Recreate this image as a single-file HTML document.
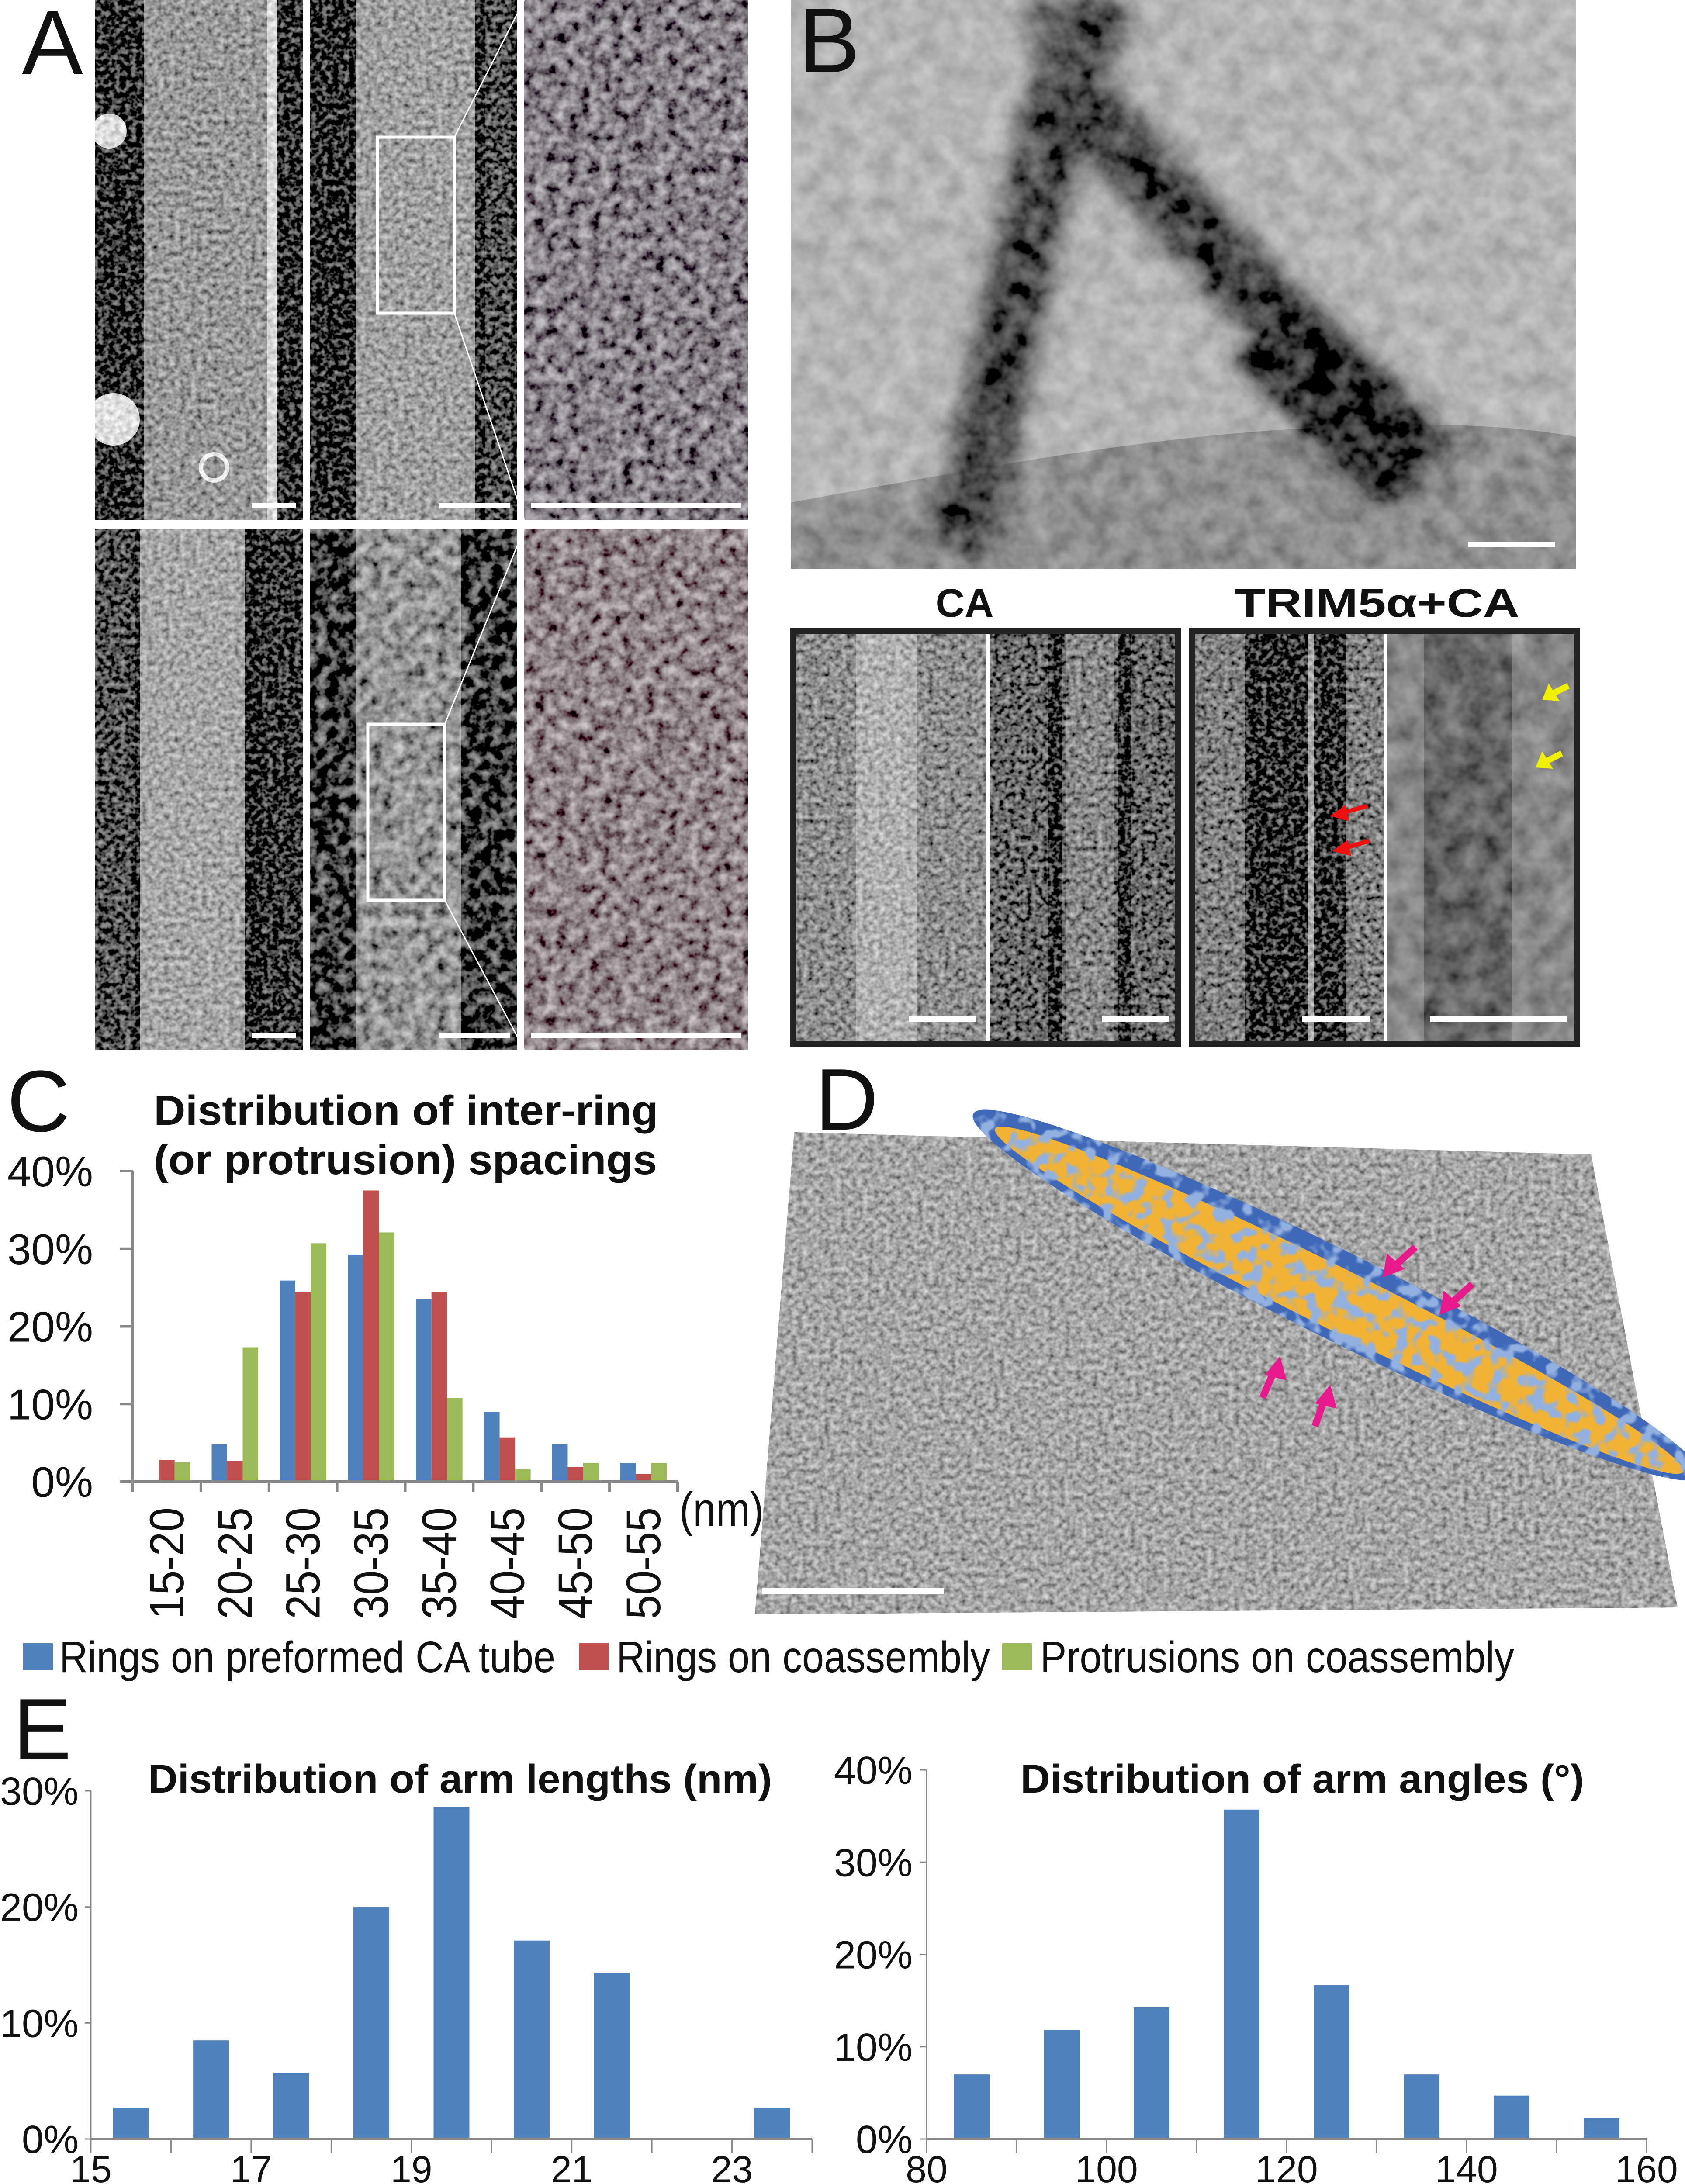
<!DOCTYPE html>
<html><head><meta charset="utf-8">
<style>
html,body{margin:0;padding:0;background:#fff;width:3857px;height:5018px;overflow:hidden;}
svg{display:block;}
text{font-family:"Liberation Sans",Arial,sans-serif;}
</style></head>
<body>
<svg id="fig" xmlns="http://www.w3.org/2000/svg" width="3857" height="5018" viewBox="0 0 3857 5018">
<defs>
  <filter id="addF" x="0" y="0" width="100%" height="100%">
    <feTurbulence type="fractalNoise" baseFrequency="0.08" numOctaves="2" seed="11"/>
    <feColorMatrix type="matrix" values="1 0 0 0 0  1 0 0 0 0  1 0 0 0 0  0 0 0 0 1" result="n"/>
    <feComposite in="SourceGraphic" in2="n" operator="arithmetic" k1="0" k2="1" k3="0.8" k4="-0.4"/>
    <feComposite in2="SourceAlpha" operator="in"/>
  </filter>
  <filter id="addA" x="0" y="0" width="100%" height="100%">
    <feTurbulence type="fractalNoise" baseFrequency="0.04" numOctaves="3" seed="2"/>
    <feColorMatrix type="matrix" values="1 0 0 0 0  1 0 0 0 0  1 0 0 0 0  0 0 0 0 1" result="n"/>
    <feComposite in="SourceGraphic" in2="n" operator="arithmetic" k1="0" k2="1" k3="0.9" k4="-0.45"/>
    <feComposite in2="SourceAlpha" operator="in"/>
  </filter>
  <filter id="addB" x="0" y="0" width="100%" height="100%">
    <feTurbulence type="fractalNoise" baseFrequency="0.02" numOctaves="3" seed="7"/>
    <feColorMatrix type="matrix" values="1 0 0 0 0  1 0 0 0 0  1 0 0 0 0  0 0 0 0 1" result="n"/>
    <feComposite in="SourceGraphic" in2="n" operator="arithmetic" k1="0" k2="1" k3="0.35" k4="-0.175"/>
    <feComposite in2="SourceAlpha" operator="in"/>
  </filter>
  <filter id="blobs" x="0" y="0" width="100%" height="100%">
    <feTurbulence type="fractalNoise" baseFrequency="0.03" numOctaves="2" seed="5"/>
    <feColorMatrix type="matrix" values="0 0 0 0 0.29  0 0 0 0 0.44  0 0 0 0 0.75  6 0 0 0 -2.9"/>
    <feComposite in2="SourceGraphic" operator="in"/>
  </filter>
  <filter id="blur" x="-20%" y="-20%" width="140%" height="140%"><feGaussianBlur stdDeviation="25"/></filter>
  <clipPath id="cA11"><rect x="218" y="0" width="476" height="1190"/></clipPath>
  <clipPath id="cA12"><rect x="710" y="0" width="474" height="1190"/></clipPath>
  <clipPath id="cA21"><rect x="218" y="1210" width="476" height="1193"/></clipPath>
  <clipPath id="cA22"><rect x="710" y="1210" width="474" height="1193"/></clipPath>
  <clipPath id="cB"><rect x="1811" y="0" width="1796" height="1302"/></clipPath>
  <clipPath id="cTube"><ellipse cx="0" cy="0" rx="930" ry="100"/></clipPath>
</defs>

<!-- ============ PANEL A ============ -->
<g>
  <g clip-path="url(#cA11)">
    <g filter="url(#addF)">
      <rect x="218" y="0" width="476" height="1190" fill="#303030"/>
      <rect x="330" y="0" width="290" height="1190" fill="#999"/>
      <rect x="612" y="0" width="22" height="1190" fill="#d8d8d8"/>
      <circle cx="250" cy="300" r="40" fill="#ddd"/><circle cx="260" cy="960" r="60" fill="#e0e0e0"/>
      <circle cx="490" cy="1070" r="30" fill="none" stroke="#eee" stroke-width="10"/>
    </g>
  </g>
  <g clip-path="url(#cA12)">
    <g filter="url(#addF)">
      <rect x="710" y="0" width="474" height="1190" fill="#282828"/>
      <rect x="816" y="0" width="272" height="1190" fill="#a0a0a0"/>
      <rect x="1110" y="0" width="60" height="1190" fill="#555"/>
    </g>
  </g>
  <g filter="url(#addA)">
    <rect x="1200" y="0" width="512" height="1190" fill="#858085"/>
  </g>
  <g clip-path="url(#cA21)">
    <g filter="url(#addF)">
      <rect x="218" y="1210" width="476" height="1193" fill="#121212"/>
      <rect x="218" y="1210" width="90" height="1193" fill="#555"/>
      <rect x="320" y="1210" width="240" height="1193" fill="#a6a6a6"/>
      <rect x="600" y="1210" width="94" height="1193" fill="#383838"/>
    </g>
  </g>
  <g clip-path="url(#cA22)">
    <g filter="url(#addA)">
      <rect x="710" y="1210" width="474" height="1193" fill="#404040"/>
      <rect x="816" y="1210" width="240" height="1193" fill="#959595"/>
    </g>
  </g>
  <g filter="url(#addA)">
    <rect x="1200" y="1210" width="512" height="1193" fill="#908589"/>
  </g>
  <text x="50" y="170" font-size="210" fill="#111">A</text>
  <rect x="864" y="314" width="176" height="403" fill="none" stroke="#fff" stroke-width="7"/>
  <line x1="1040" y1="314" x2="1200" y2="0" stroke="#fff" stroke-width="3"/>
  <line x1="1040" y1="717" x2="1200" y2="1190" stroke="#fff" stroke-width="3"/>
  <rect x="842" y="1658" width="176" height="403" fill="none" stroke="#fff" stroke-width="7"/>
  <line x1="1018" y1="1658" x2="1200" y2="1210" stroke="#fff" stroke-width="3"/>
  <line x1="1018" y1="2061" x2="1200" y2="2403" stroke="#fff" stroke-width="3"/>
  <g fill="#fff">
    <rect x="576" y="1152" width="102" height="12"/><rect x="1006" y="1152" width="162" height="12"/><rect x="1216" y="1152" width="480" height="12"/>
    <rect x="576" y="2364" width="102" height="12"/><rect x="1006" y="2364" width="162" height="12"/><rect x="1216" y="2364" width="480" height="12"/>
  </g>
</g>

<!-- ============ PANEL B ============ -->
<g>
  <g clip-path="url(#cB)">
    <g filter="url(#addB)">
      <rect x="1811" y="0" width="1796" height="1302" fill="#b5b5b5"/>
      <path d="M1811 1150 C2200 1080 2600 1000 3000 980 C3300 960 3500 980 3607 1000 L3607 1302 L1811 1302Z" fill="#909090"/>
      <g filter="url(#blur)">
        <path d="M2540 0 L2432 190 L2200 1260" stroke="#454545" stroke-width="140" fill="none"/>
        <path d="M2432 190 L3230 1060" stroke="#404040" stroke-width="150" fill="none"/>
        <path d="M2900 750 L3250 1090" stroke="#2a2a2a" stroke-width="220" fill="none"/>
        <path d="M2380 0 L2432 190" stroke="#606060" stroke-width="90" fill="none"/>
      </g>
    </g>
    <rect x="3360" y="1240" width="200" height="12" fill="#fff"/>
  </g>
  <text x="1828" y="165" font-size="210" fill="#111">B</text>
  <text x="2208" y="1412" font-size="92" font-weight="bold" text-anchor="middle" fill="#111">CA</text>
  <text x="3152" y="1412" font-size="92" font-weight="bold" text-anchor="middle" fill="#111" textLength="652" lengthAdjust="spacingAndGlyphs">TRIM5α+CA</text>
  <g>
    <rect x="1809" y="1438" width="895" height="959" fill="#222"/>
    <g filter="url(#addF)">
      <rect x="1823" y="1452" width="434" height="931" fill="#8e8e8e"/>
      <rect x="1960" y="1452" width="140" height="931" fill="#b0b0b0"/>
      <rect x="2263" y="1452" width="427" height="931" fill="#6a6a6a"/>
      <rect x="2400" y="1452" width="30" height="931" fill="#2a2a2a"/>
      <rect x="2560" y="1452" width="30" height="931" fill="#2a2a2a"/>
      <rect x="2440" y="1452" width="110" height="931" fill="#888"/>
    </g>
    <rect x="2257" y="1452" width="8" height="931" fill="#fff"/>
    <rect x="2080" y="2326" width="155" height="14" fill="#fff"/>
    <rect x="2522" y="2326" width="155" height="14" fill="#fff"/>
  </g>
  <g>
    <rect x="2722" y="1438" width="895" height="959" fill="#222"/>
    <g filter="url(#addF)">
      <rect x="2736" y="1452" width="432" height="931" fill="#808080"/>
      <rect x="2850" y="1452" width="230" height="931" fill="#2e2e2e"/>
      <rect x="2995" y="1452" width="12" height="931" fill="#aaa"/>
    </g>
    <g filter="url(#addB)">
      <rect x="3172" y="1452" width="431" height="931" fill="#888"/>
      <rect x="3260" y="1452" width="200" height="931" fill="#666"/>
    </g>
    <rect x="3168" y="1452" width="8" height="931" fill="#fff"/>
    <rect x="2980" y="2326" width="155" height="14" fill="#fff"/>
    <rect x="3274" y="2326" width="312" height="14" fill="#fff"/>
    <g fill="#f01010" stroke="#f01010" stroke-width="10">
      <line x1="3130" y1="1845" x2="3060" y2="1865"/><polygon points="3045,1868 3080,1843 3088,1880" stroke="none"/>
      <line x1="3135" y1="1925" x2="3065" y2="1945"/><polygon points="3050,1948 3085,1923 3093,1960" stroke="none"/>
    </g>
    <g fill="#f0f000" stroke="#f0f000" stroke-width="14">
      <line x1="3590" y1="1570" x2="3540" y2="1595"/><polygon points="3530,1602 3545,1565 3570,1605" stroke="none"/>
      <line x1="3575" y1="1725" x2="3525" y2="1750"/><polygon points="3515,1757 3530,1720 3555,1760" stroke="none"/>
    </g>
  </g>
</g>

<!-- ============ PANEL C ============ -->
<g id="chartC">
  <text x="16" y="2590" font-size="200" fill="#111">C</text>
  <text x="352" y="2575" font-size="96" font-weight="bold" fill="#111" textLength="1155" lengthAdjust="spacingAndGlyphs">Distribution of inter-ring</text>
  <text x="352" y="2688" font-size="96" font-weight="bold" fill="#111" textLength="1152" lengthAdjust="spacingAndGlyphs">(or protrusion) spacings</text>
  <text x="1555" y="3494" font-size="110" fill="#111" textLength="193" lengthAdjust="spacingAndGlyphs">(nm)</text>
</g>
<g id="legendC">
  <rect x="53" y="3762" width="68" height="62" fill="#4f81bd"/>
  <text x="136" y="3828" font-size="100" fill="#111" textLength="1135" lengthAdjust="spacingAndGlyphs">Rings on preformed CA tube</text>
  <rect x="1326" y="3762" width="68" height="62" fill="#c0504d"/>
  <text x="1411" y="3828" font-size="100" fill="#111" textLength="855" lengthAdjust="spacingAndGlyphs">Rings on coassembly</text>
  <rect x="2294" y="3762" width="68" height="62" fill="#9bbb59"/>
  <text x="2381" y="3828" font-size="100" fill="#111" textLength="1085" lengthAdjust="spacingAndGlyphs">Protrusions on coassembly</text>
</g>

<!-- ============ PANEL D ============ -->
<g>
  <g filter="url(#addF)">
    <polygon points="1818,2592 3642,2643 3840,3680 1728,3696" fill="#a6a6a6"/>
  </g>
  <text x="1866" y="2586" font-size="200" fill="#111">D</text>
  <g transform="translate(3060,2965) rotate(26.5)">
    <ellipse cx="0" cy="0" rx="930" ry="100" fill="#3f68b8"/>
    <ellipse cx="10" cy="8" rx="880" ry="70" fill="#f2b233"/>
    <g clip-path="url(#cTube)"><rect x="-930" y="-100" width="1860" height="200" fill="#fff" filter="url(#blobs)"/></g>
  </g>
  <g fill="#e8198b" stroke="#e8198b" stroke-width="16">
    <line x1="3240" y1="2855" x2="3185" y2="2905"/><polygon points="3165,2925 3175,2870 3215,2905" stroke="none"/>
    <line x1="3370" y1="2940" x2="3315" y2="2990"/><polygon points="3295,3010 3305,2955 3345,2990" stroke="none"/>
    <line x1="2890" y1="3200" x2="2920" y2="3130"/><polygon points="2930,3105 2945,3160 2895,3148" stroke="none"/>
    <line x1="3010" y1="3265" x2="3035" y2="3195"/><polygon points="3045,3170 3060,3225 3010,3213" stroke="none"/>
  </g>
  <rect x="1744" y="3636" width="416" height="14" fill="#fff"/>
</g>

<!-- ============ PANEL E ============ -->
<text x="30" y="4028" font-size="200" fill="#111">E</text>
<g id="chartE1">
  <text x="339" y="4104" font-size="92" font-weight="bold" fill="#111" textLength="1428" lengthAdjust="spacingAndGlyphs">Distribution of arm lengths (nm)</text>
</g>
<g id="chartE2">
  <text x="2336" y="4104" font-size="92" font-weight="bold" fill="#111" textLength="1290" lengthAdjust="spacingAndGlyphs">Distribution of arm angles (°)</text>
</g>
</svg>

<script>
// ---------- Chart C data ----------
const cCategories = ["15-20","20-25","25-30","30-35","35-40","40-45","45-50","50-55"];
const cPreformed = [0, 4.8, 25.9, 29.2, 23.5, 9.0, 4.8, 2.4];
const cCoassemblyRings = [2.8, 2.7, 24.4, 37.5, 24.4, 5.7, 1.9, 1.0];
const cProtrusions = [2.5, 17.3, 30.7, 32.1, 10.8, 1.6, 2.4, 2.4];
const cYTicks = [0, 10, 20, 30, 40];
const cYTickLabels = ["0%","10%","20%","30%","40%"];
// ---------- Chart E data ----------
const e1Bins = [15,16,17,18,19,20,21,22,23];
const e1Values = [2.7, 8.5, 5.7, 20.0, 28.6, 17.1, 14.3, 0, 2.7];
const e1YTicks = [0,10,20,30];
const e1YTickLabels = ["0%","10%","20%","30%"];
const e1XTicks = [15,17,19,21,23];
const e1XTickLabels = ["15","17","19","21","23"];
const e2Bins = [80,90,100,110,120,130,140,150];
const e2Values = [7.0, 11.8, 14.3, 35.7, 16.7, 7.0, 4.7, 2.3];
const e2YTicks = [0,10,20,30,40];
const e2YTickLabels = ["0%","10%","20%","30%","40%"];
const e2XTicks = [80,100,120,140,160];
const e2XTickLabels = ["80","100","120","140","160"];

const NS = "http://www.w3.org/2000/svg";
function mk(parent, tag, attrs, txt){
  const el = document.createElementNS(NS, tag);
  for (const k in attrs) el.setAttribute(k, attrs[k]);
  if (txt !== undefined) el.textContent = txt;
  parent.appendChild(el);
  return el;
}

// ---- Chart C ----
(function(){
  const g = document.getElementById('chartC');
  const x0 = 304, x1 = 1551, y0 = 3392, yTop = 2681, yMax = 40;
  const catW = (x1 - x0) / cCategories.length;
  const xScale = i => x0 + i * catW;
  const yScale = v => y0 - (v / yMax) * (y0 - yTop);
  const bw = 35.5;
  const series = [[cPreformed,"#4f81bd","preformed"],[cCoassemblyRings,"#c0504d","coassembly-rings"],[cProtrusions,"#9bbb59","protrusions"]];
  series.forEach((s, k) => {
    s[0].forEach((v, i) => {
      const bx = xScale(i) + (catW - 3*bw)/2 + k*bw;
      const r = mk(g, 'rect', {x: bx, y: yScale(v), width: bw, height: y0 - yScale(v), fill: s[1]});
      
      
    });
  });
  const ya = mk(g, 'line', {x1: x0, y1: yTop, x2: x0, y2: y0 + 24, stroke: '#888', 'stroke-width': 6});
  
  
  const xa = mk(g, 'line', {x1: x0 - 30, y1: y0, x2: x1, y2: y0, stroke: '#888', 'stroke-width': 6});
  
  
  cYTicks.forEach((t, i) => {
    mk(g, 'line', {x1: x0 - 30, y1: yScale(t), x2: x0, y2: yScale(t), stroke: '#888', 'stroke-width': 6});
    const lb = mk(g, 'text', {x: 213, y: yScale(t) + 35, 'font-size': 98, 'text-anchor': 'end', fill: '#111'}, cYTickLabels[i]);
    
    
  });
  for (let i = 0; i <= cCategories.length; i++) {
    mk(g, 'line', {x1: xScale(i), y1: y0, x2: xScale(i), y2: y0 + 24, stroke: '#888', 'stroke-width': 6});
  }
  cCategories.forEach((c, i) => {
    const cx = xScale(i) + catW/2 + 38;
    const t = mk(g, 'text', {x: 0, y: 0, 'font-size': 110, 'text-anchor': 'end', fill: '#111', textLength: 256, lengthAdjust: 'spacingAndGlyphs', transform: 'translate(' + cx + ',3451) rotate(-90)'}, c);
    
    
  });
})();

// ---- Chart E generic ----
function drawE(id, bins, vals, binW, xMin, xMax, px0, px1, y0, yTop, yMax, yTicks, yLabels, xTicks, xLabels, labelRight, prefix){
  const g = document.getElementById(id);
  const xScale = v => px0 + (v - xMin) / (xMax - xMin) * (px1 - px0);
  const yScale = v => y0 - v / yMax * (y0 - yTop);
  const bw = 82;
  bins.forEach((b, i) => {
    const cx = xScale(b + binW/2);
    const r = mk(g, 'rect', {x: cx - bw/2, y: yScale(vals[i]), width: bw, height: y0 - yScale(vals[i]), fill: '#4f81bd'});
    
    
  });
  const ya = mk(g, 'line', {x1: px0, y1: yTop, x2: px0, y2: y0 + 32, stroke: '#888', 'stroke-width': 3});
  
  
  const xa = mk(g, 'line', {x1: px0, y1: y0, x2: px1, y2: y0, stroke: '#888', 'stroke-width': 6});
  
  
  yTicks.forEach((t, i) => {
    mk(g, 'line', {x1: px0 - 14, y1: yScale(t), x2: px0, y2: yScale(t), stroke: '#888', 'stroke-width': 3});
    const lb = mk(g, 'text', {x: labelRight, y: yScale(t) + 32, 'font-size': 90, 'text-anchor': 'end', fill: '#111'}, yLabels[i]);
    
    
  });
  for (let v = xMin; v <= xMax + 1e-9; v += binW) {
    mk(g, 'line', {x1: xScale(v), y1: y0, x2: xScale(v), y2: y0 + 32, stroke: '#888', 'stroke-width': 3});
  }
  xTicks.forEach((t, i) => {
    const lb = mk(g, 'text', {x: xScale(t), y: 4996, 'font-size': 86, 'text-anchor': 'middle', fill: '#111'}, xLabels[i]);
    
    
  });
}
drawE('chartE1', e1Bins, e1Values, 1, 15, 24, 208, 1859, 4897, 4100, 30, e1YTicks, e1YTickLabels, e1XTicks, e1XTickLabels, 180, 'arm-length');
drawE('chartE2', e2Bins, e2Values, 10, 80, 160, 2121, 3769, 4897, 4052, 40, e2YTicks, e2YTickLabels, e2XTicks, e2XTickLabels, 2089, 'arm-angle');
</script>
</body></html>
